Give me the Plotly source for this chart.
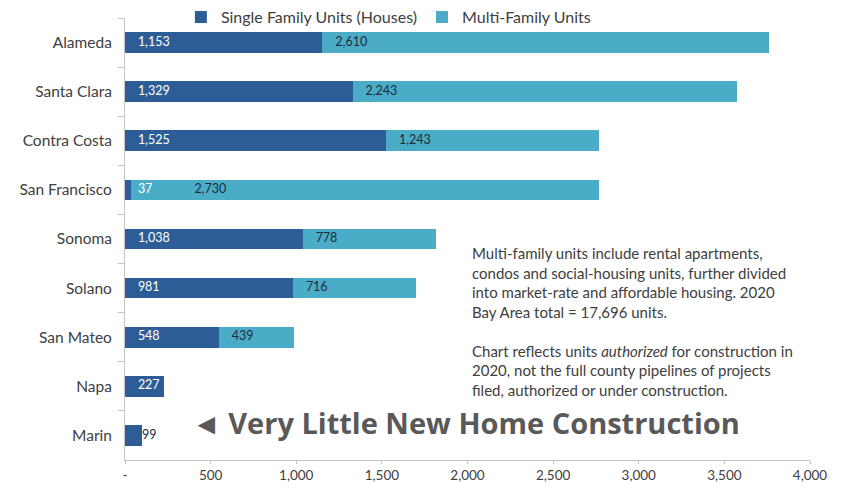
import plotly.graph_objects as go

# ── Data: 2020 units authorized, Bay Area counties ─────────────────────────
counties = ["Alameda", "Santa Clara", "Contra Costa", "San Francisco", "Sonoma",
            "Solano", "San Mateo", "Napa", "Marin"]
single_family = [1153, 1329, 1525, 37, 1038, 981, 548, 227, 99]
multi_family = [2610, 2243, 1243, 2730, 778, 716, 439, None, None]

tick_vals = [0, 500, 1000, 1500, 2000, 2500, 3000, 3500, 4000]
tick_text = ["-", "500", "1,000", "1,500", "2,000", "2,500", "3,000", "3,500", "4,000"]

DARK = "#2d5d97"
LIGHT = "#4bacc8"
TEXT = "#404040"
LABEL_DARK = "#1f2b3a"
GRID = "#c4c4c4"
FONT = "Lato, 'Open Sans', sans-serif"
SHORT = 150          # bars shorter than this get their label outside
SF_LABEL_X = 330     # San Francisco multi-family label is nudged past the "37"

note = ("Multi-family units include rental apartments,<br>"
        "condos and social-housing units, further divided<br>"
        "into market-rate and affordable housing. 2020<br>"
        "Bay Area total = 17,696 units.<br><br>"
        "Chart reflects units <i>authorized</i> for construction in<br>"
        "2020, not the full county pipelines of projects<br>"
        "filed, authorized or under construction.")

fig = go.Figure()

fig.add_trace(go.Bar(
    y=counties, x=single_family, orientation="h",
    name="Single Family Units (Houses)",
    marker=dict(color=DARK, line_width=0),
))
fig.add_trace(go.Bar(
    y=counties, x=multi_family, orientation="h",
    name="Multi-Family Units",
    marker=dict(color=LIGHT, line_width=0),
))

# single-family labels sit at the bar base; tiny bars get it just past the end
short = [v < SHORT and v > 50 for v in single_family]
fig.add_trace(go.Scatter(
    y=counties, x=[v if s else 0 for v, s in zip(single_family, short)],
    mode="markers+text",
    marker=dict(size=[0 if s else 19 for s in short], opacity=0),
    text=[f"{v:,}" for v in single_family],
    textposition="middle right",
    textfont=dict(color=[LABEL_DARK if s else "white" for s in short],
                  size=12.5, family=FONT),
    showlegend=False, hoverinfo="skip", cliponaxis=False,
))

# multi-family labels start where the single-family segment ends
mf_y, mf_x, mf_t = [], [], []
for c, s, m in zip(counties, single_family, multi_family):
    if m:
        mf_y.append(c)
        mf_x.append(s if s > 100 else SF_LABEL_X)
        mf_t.append(f"{m:,}")
fig.add_trace(go.Scatter(
    y=mf_y, x=mf_x, mode="markers+text",
    marker=dict(size=19, opacity=0),
    text=mf_t, textposition="middle right",
    textfont=dict(color=LABEL_DARK, size=12.5, family=FONT),
    showlegend=False, hoverinfo="skip", cliponaxis=False,
))

fig.add_annotation(
    text=note, xref="paper", yref="paper", x=0.503, y=0.494,
    xanchor="left", yanchor="top", align="left", showarrow=False,
    font=dict(size=15, color=TEXT, family=FONT),
)
fig.add_annotation(
    text="<b>◄ Very Little New Home Construction</b>",
    xref="paper", yref="paper", x=0.095, y=0.084,
    xanchor="left", yanchor="middle", showarrow=False,
    font=dict(size=29, color="#595959", family="'Open Sans', sans-serif"),
)

# the page body adds an 8px offset, so the figure is 8px smaller each way
fig.update_layout(
    width=836, height=480,
    barmode="stack", bargap=0.58,
    paper_bgcolor="white", plot_bgcolor="white",
    font=dict(family=FONT, color=TEXT, size=14),
    margin=dict(l=117, r=34, t=10, b=28, autoexpand=False),
    legend=dict(orientation="h", xref="container", x=0.455, xanchor="center",
                y=1.002, yanchor="middle",
                font=dict(size=16, color=TEXT), traceorder="normal",
                bgcolor="rgba(0,0,0,0)"),
    xaxis=dict(range=[0, 4000], tickvals=tick_vals, ticktext=tick_text,
               showgrid=False, zeroline=False, showline=True, linecolor=GRID,
               ticks="outside", ticklen=3, tickcolor=GRID, automargin=False,
               tickfont=dict(size=13.5, color=TEXT)),
    yaxis=dict(range=[len(counties) - 0.5, -0.5], showgrid=False, showline=True,
               linecolor=GRID, ticks="outside", ticklen=6, tickcolor=GRID,
               tickson="boundaries", ticklabelstandoff=9, automargin=False,
               tickfont=dict(size=15.5, color=TEXT)),
    shapes=[dict(type="line", xref="paper", yref="paper", x0=1.041, x1=1.041,
                 y0=-0.07, y1=1.04, line=dict(color="#d0d0d0", width=1))],
)

fig.write_html("out.html")
